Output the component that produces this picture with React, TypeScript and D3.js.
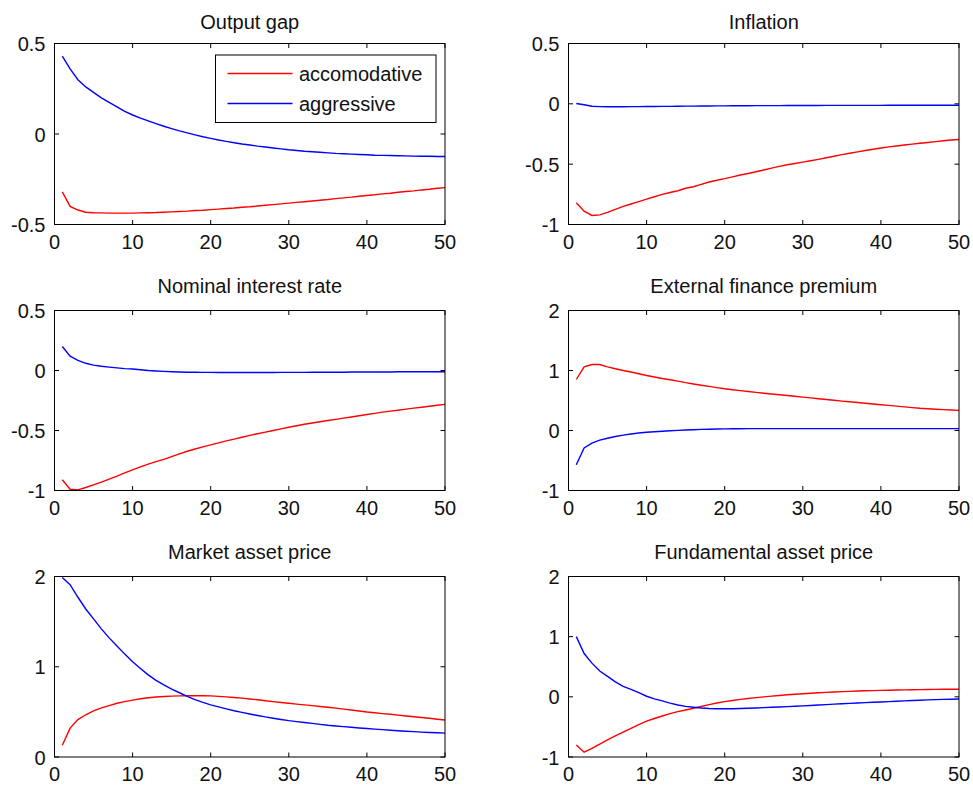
import React from "react";
import * as d3 from "d3";

// ---- data (periods 1..50) ----
const periods: number[] = d3.range(1, 51);
const xTicks = [0, 10, 20, 30, 40, 50];
const seriesNames = ["accomodative", "aggressive"];

const outputGapAccom = [
  -0.32, -0.40, -0.42, -0.432, -0.435, -0.436, -0.437, -0.437, -0.437, -0.437,
  -0.436, -0.435, -0.434, -0.432, -0.43, -0.428, -0.426, -0.423, -0.421, -0.418,
  -0.415, -0.412, -0.409, -0.405, -0.402, -0.398, -0.394, -0.39, -0.386, -0.382,
  -0.378, -0.374, -0.37, -0.366, -0.362, -0.357, -0.353, -0.349, -0.344, -0.34,
  -0.336, -0.331, -0.327, -0.322, -0.318, -0.314, -0.309, -0.305, -0.3, -0.296,
];
const outputGapAggr = [
  0.43, 0.36, 0.30, 0.26, 0.23, 0.20, 0.175, 0.15, 0.125, 0.105,
  0.088, 0.072, 0.057, 0.043, 0.03, 0.017, 0.006, -0.005, -0.015, -0.024,
  -0.033, -0.041, -0.048, -0.055, -0.061, -0.067, -0.072, -0.077, -0.082, -0.087,
  -0.091, -0.095, -0.098, -0.101, -0.104, -0.107, -0.109, -0.111, -0.113, -0.115,
  -0.117, -0.118, -0.119, -0.12, -0.121, -0.122, -0.123, -0.123, -0.124, -0.124,
];
const inflationAccom = [
  -0.82, -0.89, -0.925, -0.92, -0.9, -0.875, -0.85, -0.83, -0.81, -0.79,
  -0.77, -0.75, -0.735, -0.72, -0.7, -0.687, -0.668, -0.648, -0.633, -0.62,
  -0.605, -0.59, -0.577, -0.563, -0.548, -0.533, -0.518, -0.505, -0.494, -0.483,
  -0.472, -0.46, -0.447, -0.434, -0.421, -0.41, -0.398, -0.387, -0.376, -0.366,
  -0.357, -0.349, -0.341, -0.334, -0.327, -0.32, -0.313, -0.306, -0.3, -0.295,
];
const inflationAggr = [
  0.003, -0.008, -0.02, -0.023, -0.024, -0.024, -0.024, -0.023, -0.023, -0.022,
  -0.022, -0.021, -0.021, -0.02, -0.019, -0.019, -0.018, -0.018, -0.017, -0.017,
  -0.016, -0.016, -0.016, -0.015, -0.015, -0.015, -0.015, -0.014, -0.014, -0.014,
  -0.014, -0.014, -0.013, -0.013, -0.013, -0.013, -0.013, -0.013, -0.013, -0.013,
  -0.012, -0.012, -0.012, -0.012, -0.012, -0.012, -0.012, -0.012, -0.012, -0.012,
];
const rateAccom = [
  -0.91, -0.99, -0.995, -0.975, -0.953, -0.93, -0.905, -0.88, -0.853, -0.828,
  -0.803, -0.78, -0.76, -0.74, -0.717, -0.695, -0.673, -0.654, -0.637, -0.62,
  -0.603, -0.587, -0.572, -0.556, -0.541, -0.527, -0.513, -0.5, -0.486, -0.473,
  -0.46, -0.448, -0.437, -0.427, -0.417, -0.407, -0.397, -0.387, -0.377, -0.367,
  -0.357, -0.347, -0.339, -0.331, -0.322, -0.314, -0.306, -0.298, -0.29, -0.282,
];
const rateAggr = [
  0.2, 0.12, 0.085, 0.06, 0.045, 0.035, 0.028, 0.022, 0.016, 0.012,
  0.006, 0.0, -0.004, -0.007, -0.01, -0.012, -0.014, -0.015, -0.016, -0.016,
  -0.017, -0.017, -0.017, -0.017, -0.017, -0.017, -0.017, -0.017, -0.016, -0.016,
  -0.016, -0.016, -0.015, -0.015, -0.014, -0.014, -0.014, -0.013, -0.013, -0.013,
  -0.012, -0.012, -0.012, -0.011, -0.011, -0.011, -0.01, -0.01, -0.01, -0.01,
];
const efpAccom = [
  0.85, 1.06, 1.1, 1.1, 1.06, 1.03, 1.0, 0.975, 0.945, 0.917,
  0.892, 0.867, 0.845, 0.822, 0.797, 0.775, 0.754, 0.735, 0.715, 0.695,
  0.68, 0.665, 0.65, 0.636, 0.622, 0.609, 0.596, 0.583, 0.57, 0.557,
  0.543, 0.53, 0.516, 0.503, 0.49, 0.478, 0.466, 0.454, 0.441, 0.43,
  0.418, 0.406, 0.394, 0.382, 0.37, 0.362, 0.355, 0.348, 0.341, 0.335,
];
const efpAggr = [
  -0.57, -0.29, -0.21, -0.16, -0.13, -0.1, -0.078, -0.058, -0.042, -0.03,
  -0.02, -0.012, -0.005, 0.002, 0.008, 0.013, 0.018, 0.022, 0.025, 0.027,
  0.029, 0.03, 0.031, 0.032, 0.032, 0.032, 0.032, 0.032, 0.032, 0.032,
  0.032, 0.032, 0.032, 0.032, 0.032, 0.032, 0.032, 0.032, 0.032, 0.032,
  0.031, 0.031, 0.031, 0.031, 0.031, 0.031, 0.031, 0.031, 0.031, 0.031,
];
const marketAccom = [
  0.13, 0.32, 0.415, 0.468, 0.512, 0.545, 0.57, 0.595, 0.613, 0.63,
  0.645, 0.657, 0.665, 0.671, 0.675, 0.677, 0.678, 0.678, 0.678, 0.677,
  0.672, 0.666, 0.66, 0.652, 0.643, 0.634, 0.624, 0.614, 0.604, 0.595,
  0.586, 0.577, 0.569, 0.56, 0.551, 0.541, 0.531, 0.521, 0.51, 0.499,
  0.49, 0.481, 0.473, 0.464, 0.455, 0.446, 0.437, 0.429, 0.419, 0.41,
];
const marketAggr = [
  1.99, 1.91, 1.77, 1.64, 1.53, 1.42, 1.32, 1.23, 1.14, 1.055,
  0.98, 0.91, 0.85, 0.8, 0.752, 0.712, 0.672, 0.635, 0.605, 0.578,
  0.555, 0.533, 0.513, 0.495, 0.477, 0.46, 0.444, 0.43, 0.416, 0.403,
  0.392, 0.382, 0.372, 0.362, 0.352, 0.344, 0.336, 0.329, 0.322, 0.315,
  0.309, 0.303, 0.297, 0.291, 0.286, 0.281, 0.276, 0.272, 0.268, 0.264,
];
const fundAccom = [
  -0.8, -0.92, -0.855, -0.785, -0.717, -0.65, -0.585, -0.523, -0.462, -0.405,
  -0.36, -0.318, -0.278, -0.246, -0.218, -0.19, -0.16, -0.13, -0.103, -0.079,
  -0.06, -0.042, -0.027, -0.013, 0.0, 0.012, 0.023, 0.034, 0.044, 0.052,
  0.06, 0.067, 0.074, 0.08, 0.086, 0.091, 0.096, 0.1, 0.104, 0.107,
  0.11, 0.113, 0.116, 0.118, 0.12, 0.122, 0.124, 0.125, 0.126, 0.127,
];
const fundAggr = [
  1.0, 0.72, 0.56, 0.43, 0.34, 0.25, 0.175, 0.125, 0.07, 0.01,
  -0.035, -0.068, -0.105, -0.135, -0.158, -0.172, -0.185, -0.193, -0.197, -0.198,
  -0.197, -0.194, -0.19, -0.185, -0.18, -0.174, -0.168, -0.162, -0.156, -0.15,
  -0.143, -0.136, -0.129, -0.121, -0.114, -0.109, -0.103, -0.097, -0.091, -0.086,
  -0.08, -0.074, -0.068, -0.062, -0.056, -0.051, -0.047, -0.043, -0.039, -0.035,
];

const titles = [
  "Output gap",
  "Inflation",
  "Nominal interest rate",
  "External finance premium",
  "Market asset price",
  "Fundamental asset price",
];
const yDomains: [number, number][] = [[-0.5, 0.5], [-1, 0.5], [-1, 0.5], [-1, 2], [0, 2], [-1, 2]];
const yTickSets = [
  [-0.5, 0, 0.5],
  [-1, -0.5, 0, 0.5],
  [-1, -0.5, 0, 0.5],
  [-1, 0, 1, 2],
  [0, 1, 2],
  [-1, 0, 1, 2],
];
const accomSeries = [outputGapAccom, inflationAccom, rateAccom, efpAccom, marketAccom, fundAccom];
const aggrSeries = [outputGapAggr, inflationAggr, rateAggr, efpAggr, marketAggr, fundAggr];

// ---- layout ----
const W = 973;
const H = 788;
const cols = [
  [54.5, 445],
  [568.5, 959],
];
const rows = [
  [43.5, 224.5],
  [310.5, 490.5],
  [576.5, 757],
];
const titleBaselines = [28.5, 293, 559];
const FONT = "'Liberation Sans', Arial, Helvetica, sans-serif";
const RED = "#ff0000";
const BLUE = "#0000ff";
const TICK = 4.5;
const LW = 1.4;

function Panel({ idx }: { idx: number }) {
  const c = idx % 2;
  const r = Math.floor(idx / 2);
  const [x0, x1] = cols[c];
  const [y0, y1] = rows[r];
  const x = d3.scaleLinear().domain([0, 50]).range([x0, x1]);
  const y = d3.scaleLinear().domain(yDomains[idx]).range([y1, y0]);
  const line = d3
    .line<number>()
    .x((_, i) => x(periods[i]))
    .y((d) => y(d));
  const ticksY = yTickSets[idx];
  return (
    <g>
      <rect x={x0} y={y0} width={x1 - x0} height={y1 - y0} fill="#fff" />
      <path d={line(accomSeries[idx]) || ""} fill="none" stroke={RED} strokeWidth={LW} />
      <path d={line(aggrSeries[idx]) || ""} fill="none" stroke={BLUE} strokeWidth={LW} />
      <rect x={x0} y={y0} width={x1 - x0} height={y1 - y0} fill="none" stroke="#000" strokeWidth={1} />
      {xTicks.map((t) => (
        <g key={"x" + t}>
          <line x1={x(t)} x2={x(t)} y1={y1} y2={y1 - TICK} stroke="#000" />
          <line x1={x(t)} x2={x(t)} y1={y0} y2={y0 + TICK} stroke="#000" />
          <text x={x(t)} y={y1 + 24} textAnchor="middle" fontSize={20} fill="#111" fontFamily={FONT}>
            {String(t)}
          </text>
        </g>
      ))}
      {ticksY.map((t) => (
        <g key={"y" + t}>
          <line x1={x0} x2={x0 + TICK} y1={y(t)} y2={y(t)} stroke="#000" />
          <line x1={x1} x2={x1 - TICK} y1={y(t)} y2={y(t)} stroke="#000" />
          <text x={x0 - 9} y={y(t) + 7.5} textAnchor="end" fontSize={20} fill="#111" fontFamily={FONT}>
            {String(t)}
          </text>
        </g>
      ))}
      <text
        x={(x0 + x1) / 2}
        y={titleBaselines[r]}
        textAnchor="middle"
        fontSize={20}
        fill="#111"
        fontFamily={FONT}
      >
        {titles[idx]}
      </text>
      {idx === 0 && (
        <g>
          <rect x={215.5} y={55} width={220.5} height={67.5} fill="#fff" stroke="#000" strokeWidth={1} />
          <line x1={227.5} x2={292.5} y1={73.5} y2={73.5} stroke={RED} strokeWidth={LW} />
          <line x1={227.5} x2={292.5} y1={103.5} y2={103.5} stroke={BLUE} strokeWidth={LW} />
          <text x={299} y={81} fontSize={20} fill="#111" fontFamily={FONT}>
            {seriesNames[0]}
          </text>
          <text x={299} y={111} fontSize={20} fill="#111" fontFamily={FONT}>
            {seriesNames[1]}
          </text>
        </g>
      )}
    </g>
  );
}

export default function App() {
  return (
    <svg
      width={W}
      height={H}
      viewBox={`0 0 ${W} ${H}`}
      style={{ position: "absolute", left: 0, top: 0, background: "#fff" }}
    >
      <rect x={0} y={0} width={W} height={H} fill="#fff" />
      {titles.map((_, i) => (
        <Panel key={i} idx={i} />
      ))}
    </svg>
  );
}
